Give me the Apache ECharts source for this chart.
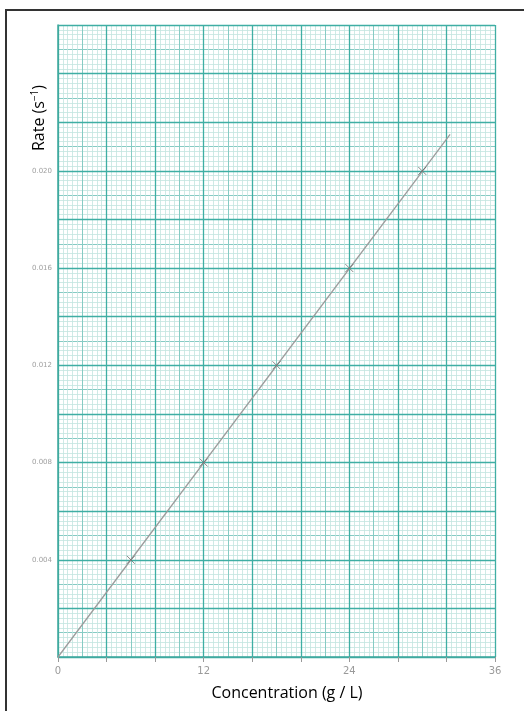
<!DOCTYPE html>
<html>
<head>
<meta charset="utf-8">
<script src="https://cdn.jsdelivr.net/npm/echarts@6/dist/echarts.min.js"></script>
<style>
html,body{margin:0;padding:0;background:#fff;}
#c{width:524px;height:711px;}
</style>
</head>
<body>
<div id="c"></div>
<script>
// Data
const concentration = [6, 12, 18, 24, 30];
const rate = [0.004, 0.008, 0.012, 0.016, 0.020];
const fitX = [0, 32.3];
const fitY = [0, 0.0215];
const xTickLabels = [0, 12, 24, 36];
const yTickLabels = ['0.004', '0.008', '0.012', '0.016', '0.020'];

const MAJOR = '#3fae a4'.replace(' ', '');
const MEDIUM = '#86cbc4';
const MINOR = '#c3e4e0';

const chart = echarts.init(document.getElementById('c'), null, {renderer: 'canvas'});

const gridDef = {left: 58, top: 25, width: 437, height: 632, containLabel: false};

const option = {
  animation: false,
  backgroundColor: '#fff',
  grid: [gridDef],
  xAxis: [
    {
      type: 'value', min: 0, max: 36, interval: 2, gridIndex: 0, z: 0, position: 'top',
      axisLine: {show: false}, axisTick: {show: false}, axisLabel: {show: false},
      splitLine: {show: true, lineStyle: {color: MEDIUM, width: 1}},
      minorTick: {show: false, splitNumber: 5},
      minorSplitLine: {show: true, lineStyle: {color: MINOR, width: 0.8}}
    },
    {
      type: 'value', min: 0, max: 36, interval: 4, gridIndex: 0, z: 2, position: 'bottom',
      axisLine: {show: true, onZero: false, lineStyle: {color: '#3fa99e', width: 1.5}},
      axisTick: {show: true, length: 5, inside: false, lineStyle: {color: '#999', width: 1}},
      axisLabel: {
        show: true, margin: 9, color: '#9a9a9a', fontSize: 10, fontFamily: 'DejaVu Sans',
        formatter: function (v) { return xTickLabels.indexOf(v) >= 0 ? String(v) : ''; }
      },
      splitLine: {show: true, lineStyle: {color: MAJOR, width: 1.3}}
    }
  ],
  yAxis: [
    {
      type: 'value', min: 0, max: 0.026, interval: 0.001, gridIndex: 0, z: 0, position: 'right',
      axisLine: {show: false}, axisTick: {show: false}, axisLabel: {show: false},
      splitLine: {show: true, lineStyle: {color: MEDIUM, width: 1}},
      minorTick: {show: false, splitNumber: 5},
      minorSplitLine: {show: true, lineStyle: {color: MINOR, width: 0.8}}
    },
    {
      type: 'value', min: 0, max: 0.026, interval: 0.002, gridIndex: 0, z: 2, position: 'left',
      axisLine: {show: true, onZero: false, lineStyle: {color: '#3fa99e', width: 1.5}},
      axisTick: {show: false},
      axisLabel: {
        show: true, margin: 6, color: '#a0a0a0', fontSize: 7, fontFamily: 'DejaVu Sans',
        formatter: function (v) {
          const s = v.toFixed(3);
          return yTickLabels.indexOf(s) >= 0 ? s : '';
        }
      },
      splitLine: {show: true, lineStyle: {color: MAJOR, width: 1.3}}
    }
  ],
  series: [
    {
      type: 'line', xAxisIndex: 1, yAxisIndex: 1, z: 5,
      data: fitX.map((x, i) => [x, fitY[i]]),
      showSymbol: false, symbol: 'none',
      lineStyle: {color: '#9c9c9c', width: 1.3}
    },
    {
      type: 'scatter', xAxisIndex: 1, yAxisIndex: 1, z: 6,
      data: concentration.map((x, i) => [x, rate[i]]),
      symbol: 'path://M0,0L10,10M10,0L0,10', symbolSize: 8,
      itemStyle: {color: 'none', borderColor: '#6a6a6a', borderWidth: 1}
    }
  ],
  graphic: [
    {
      type: 'rect', z: 100, silent: true,
      shape: {x: 6, y: 10, width: 560, height: 760},
      style: {fill: 'none', stroke: '#333', lineWidth: 2}
    },
    {
      type: 'text', z: 100, x: 30, y: 118, rotation: Math.PI / 2,
      style: {
        text: 'Rate (s{sup|−1})', fill: '#000', font: '16px "Open Sans"',
        align: 'center', verticalAlign: 'top',
        rich: {sup: {fontSize: 10, fontFamily: 'Open Sans', fill: '#000', verticalAlign: 'top', padding: [0, 0, 8, 0]}}
      }
    },
    {
      type: 'text', z: 100, x: 287, y: 693,
      style: {
        text: 'Concentration (g / L)', fill: '#000', font: '16px "Open Sans"',
        align: 'center', verticalAlign: 'middle'
      }
    }
  ]
};
chart.setOption(option);
</script>
</body>
</html>
